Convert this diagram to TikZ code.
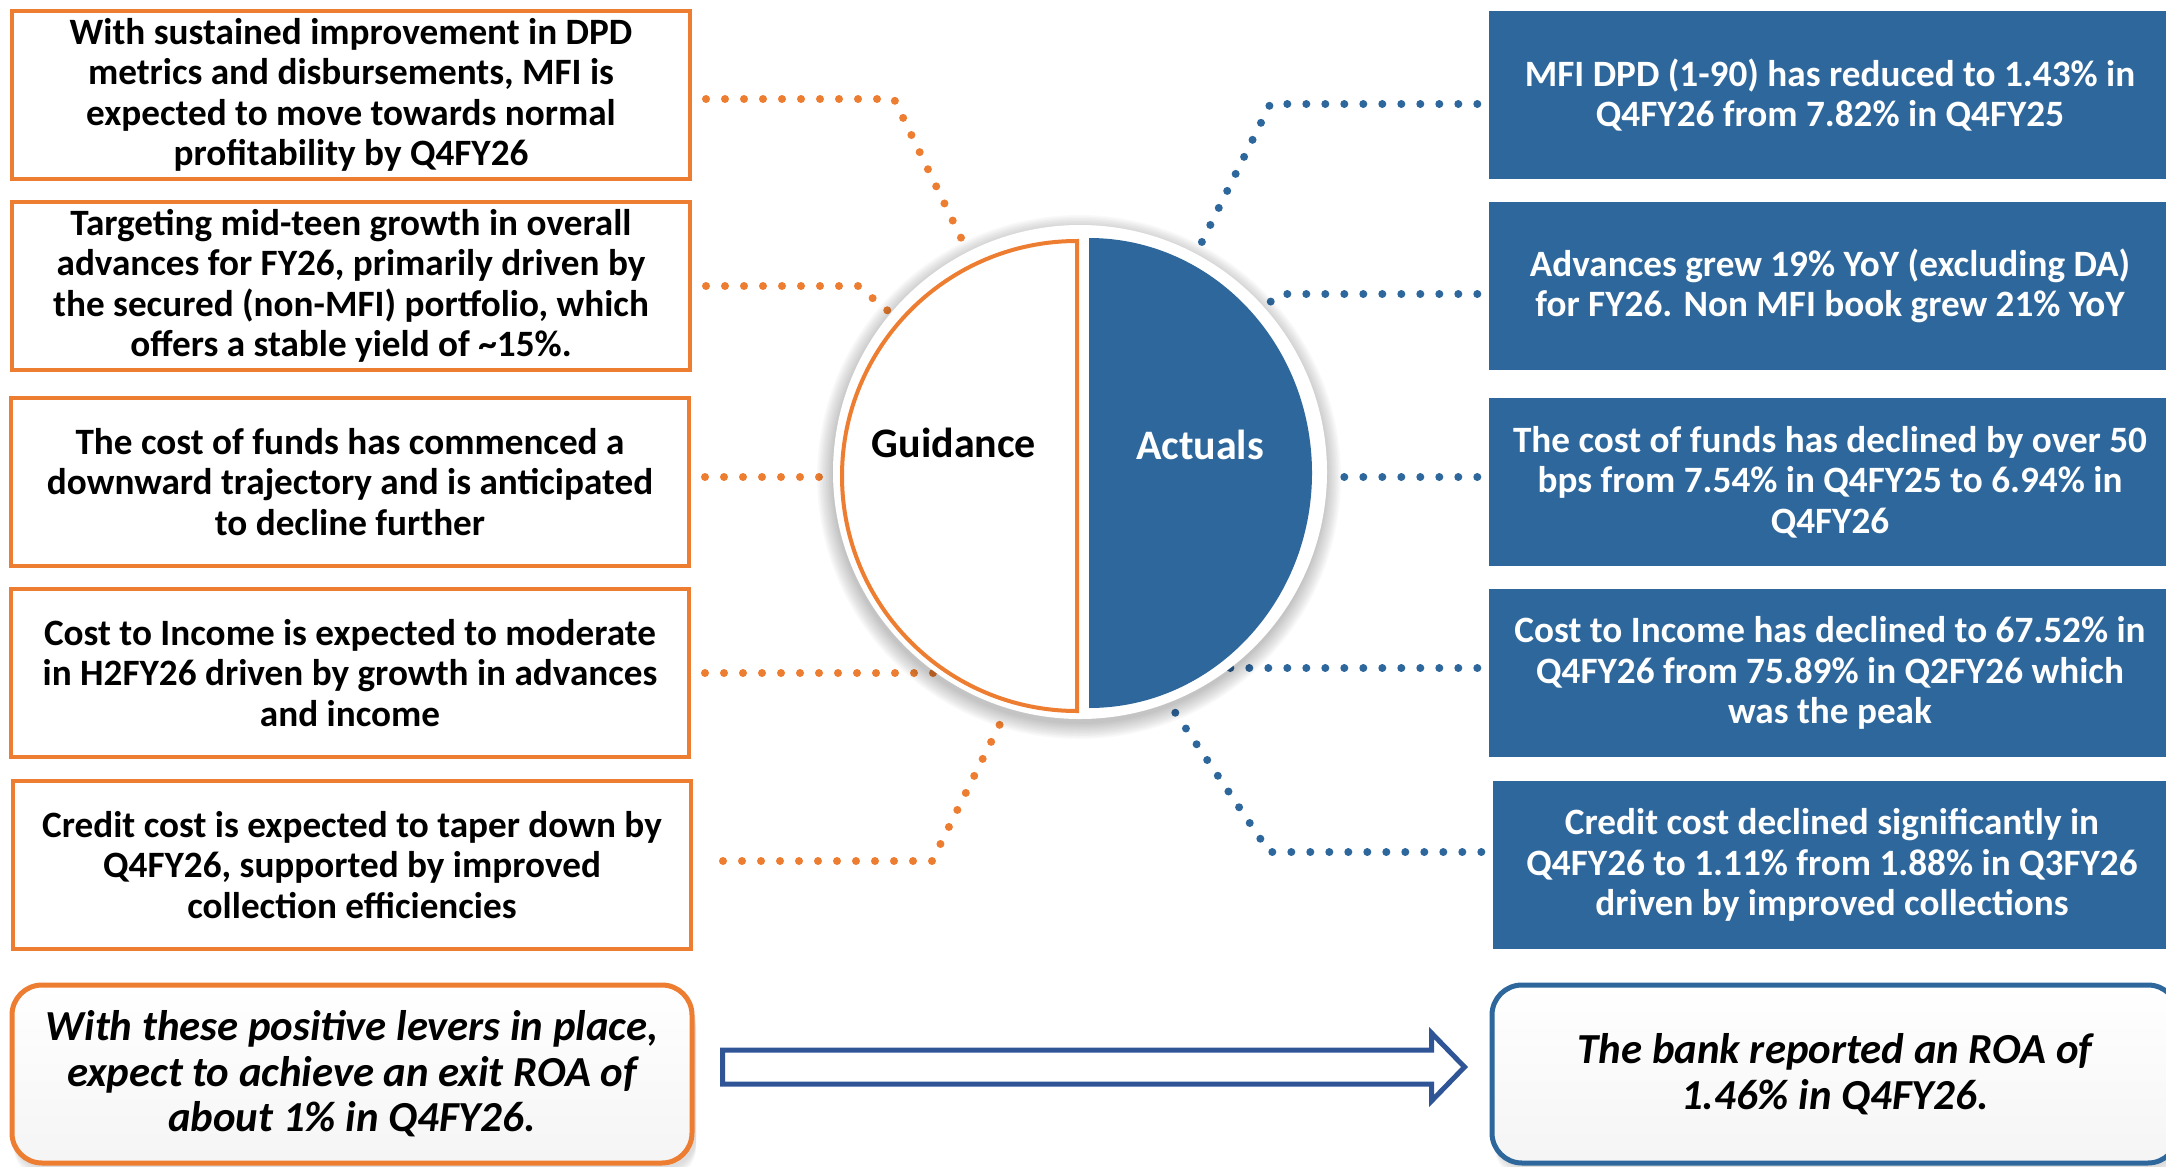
\documentclass[tikz,border=0pt]{standalone}
\usepackage{fontspec}
\setmainfont{Carlito}
\usetikzlibrary{calc}
\definecolor{org}{HTML}{ED7D31}
\definecolor{blu}{HTML}{2E679C}
\definecolor{navy}{HTML}{2F5597}
\begin{document}
\begin{tikzpicture}[x=1pt,y=-1pt,
  txt/.style={font=\fontsize{37.2}{40.5}\selectfont\bfseries, align=center, inner sep=0pt},
  gbox/.style={txt, draw=org, line width=4pt, fill=white, minimum width=678pt, minimum height=168pt},
  abox/.style={txt, fill=blu, text=white, minimum width=683pt, minimum height=168pt},
  odots/.style={draw=org, line width=8pt, line cap=round, dash pattern=on 0pt off 19pt},
  bdots/.style={draw=blu, line width=8pt, line cap=round, dash pattern=on 0pt off 19pt},
  roabox/.style={font=\fontsize{42.8}{45.5}\selectfont\bfseries\itshape, align=center, inner sep=0pt,
     line width=5pt, rounded corners=30pt, minimum width=680pt, minimum height=178pt,
     top color=white, bottom color=black!4}
]
\useasboundingbox (0,0) rectangle (2166,1167);

% left guidance boxes
\node[gbox] (L1) at (351,95) {With sustained improvement in DPD\\metrics and disbursements, MFI is\\expected to move towards normal\\profitability by Q4FY26};
\node[gbox] (L2) at (351,286) {Targeting mid-teen growth in overall\\advances for FY26, primarily driven by\\the secured (non-MFI) portfolio, which\\offers a stable yield of \textasciitilde15\%.};
\node[gbox] (L3) at (350,482) {The cost of funds has commenced a\\downward trajectory and is anticipated\\to decline further};
\node[gbox] (L4) at (350,673) {Cost to Income is expected to moderate\\in H2FY26 driven by growth in advances\\and income};
\node[gbox] (L5) at (352,865) {Credit cost is expected to taper down by\\Q4FY26, supported by improved\\collection efficiencies};

% right actuals boxes
\node[abox] (R1) at (1830,95) {MFI DPD (1-90) has reduced to 1.43\% in\\Q4FY26 from 7.82\% in Q4FY25};
\node[abox] (R2) at (1830,286) {Advances grew 19\% YoY (excluding DA)\\for FY26. Non MFI book grew 21\% YoY};
\node[abox] (R3) at (1830,482) {The cost of funds has declined by over 50\\bps from 7.54\% in Q4FY25 to 6.94\% in\\Q4FY26};
\node[abox] (R4) at (1830,673) {Cost to Income has declined to 67.52\% in\\Q4FY26 from 75.89\% in Q2FY26 which\\was the peak};
\node[abox, minimum width=679pt] (R5) at (1832,865) {Credit cost declined significantly in\\Q4FY26 to 1.11\% from 1.88\% in Q3FY26\\driven by improved collections};

% central circle placeholder (for anchors)
\path (1080,472) node[circle, minimum size=494pt, inner sep=0pt] (circ) {};

% dotted connectors (drawn under the circle)
\draw[odots] ([xshift=14pt,yshift=-4pt]L1.east) -- ++(188,0) -- (circ.117);
\draw[odots] ([xshift=14pt]L2.east) -- ++(152,0) -- (circ.140);
\draw[odots] ([xshift=14pt,yshift=5pt]L3.east) -- ([yshift=5pt]L3.east -| circ.west);
\draw[odots] ([xshift=14pt]L4.east) -- (L4.east -| circ.center);
\draw[odots] ([xshift=30pt,yshift=4pt]L5.east) -- ++(209,0) -- (circ.-107);

\draw[bdots] ([xshift=-11pt,yshift=-9pt]R1.west) -- ++(-207,0) -- (circ.62);
\draw[bdots] ([xshift=-11pt,yshift=-8pt]R2.west) -- ++(-196,0) -- (circ.42);
\draw[bdots] ([xshift=-11pt,yshift=5pt]R3.west) -- ([yshift=5pt]R3.west -| circ.east);
\draw[bdots] ([xshift=-11pt,yshift=5pt]R4.west) -- ([yshift=5pt]R4.west -| circ.center);
\draw[bdots] ([xshift=-11pt,yshift=13pt]R5.west) -- ++(-212,0) -- (circ.-69);

% circle with soft shadow
\foreach \r in {247,248.5,...,262}
  \fill[black, opacity=0.022] (1079,477) circle[radius=\r pt];
\fill[white] (circ.center) circle[radius=247pt];
\draw[org, line width=4pt, fill=white] (1077,241) arc[start angle=90, end angle=270, radius=235pt] -- cycle;
\fill[blu] (1089,238) arc[start angle=90, end angle=-90, x radius=223pt, y radius=235pt] -- cycle;
\node[font=\fontsize{42}{50}\selectfont\bfseries, inner sep=0pt] (gd) at (954,443) {Guidance};
\node[font=\fontsize{42}{50}\selectfont\bfseries, text=white, inner sep=0pt] (ac) at (1200,445) {Actuals};

% bottom ROA boxes
\foreach \dy in {2,4,...,12}
  \fill[black, opacity=0.025, rounded corners=30pt] (14,{990+\dy}) rectangle (696,{1166+\dy});
\foreach \dy in {2,4,...,12}
  \fill[black, opacity=0.025, rounded corners=30pt] (1495,{990+\dy}) rectangle (2180,{1166+\dy});
\node[roabox, draw=org] (GB) at (352,1074) {With these positive levers in place,\\expect to achieve an exit ROA of\\about 1\% in Q4FY26.};
\node[roabox, draw=blu, minimum width=686pt] (AB) at (1835,1074) {The bank reported an ROA of\\1.46\% in Q4FY26.};

% block arrow between ROA boxes
\coordinate (as) at ([xshift=28pt,yshift=7pt]GB.east);
\coordinate (ae) at ([xshift=-25pt,yshift=7pt]AB.west);
\draw[navy, line width=5pt, fill=white, line join=miter]
  ([yshift=17pt]as) -- ([xshift=-33pt,yshift=17pt]ae) -- ([xshift=-33pt,yshift=34pt]ae) -- (ae)
  -- ([xshift=-33pt,yshift=-34pt]ae) -- ([xshift=-33pt,yshift=-17pt]ae) -- ([yshift=-17pt]as) -- cycle;
\end{tikzpicture}
\end{document}
